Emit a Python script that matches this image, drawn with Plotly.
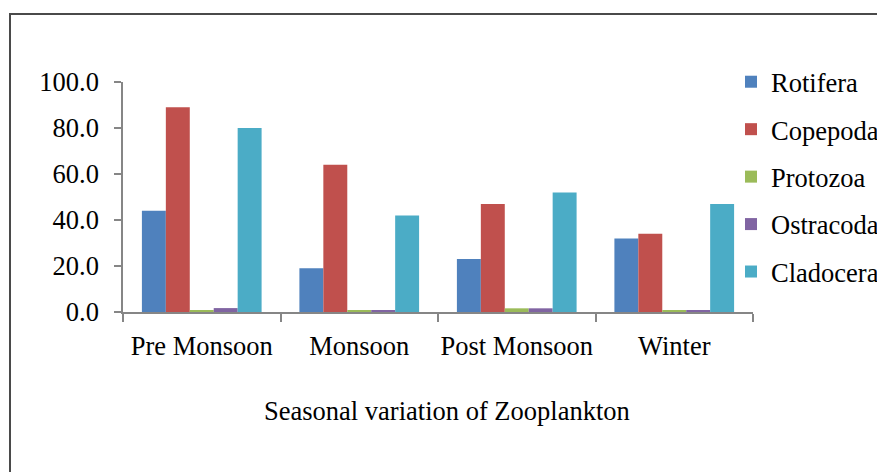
import plotly.graph_objects as go

categories = ["Pre Monsoon", "Monsoon", "Post Monsoon", "Winter"]
rotifera = [44.0, 19.0, 23.0, 32.0]
copepoda = [89.0, 64.0, 47.0, 34.0]
protozoa = [0.8, 0.5, 1.6, 0.5]
ostracoda = [1.7, 0.6, 1.6, 0.6]
cladocera = [80.0, 42.0, 52.0, 47.0]
y_ticks = [0, 20, 40, 60, 80, 100]
y_tick_labels = ["0.0", "20.0", "40.0", "60.0", "80.0", "100.0"]

series = [
    ("Rotifera", rotifera, "#4F81BD"),
    ("Copepoda", copepoda, "#C0504D"),
    ("Protozoa", protozoa, "#9BBB59"),
    ("Ostracoda", ostracoda, "#8064A2"),
    ("Cladocera", cladocera, "#4BACC6"),
]

# the page body has an 8px default margin, so the figure is drawn at (8, 8)
OFF = 8
W, H = 885 - OFF, 472 - OFF
# plot area in screenshot pixels: x 123..753, y 82..312
L = 123 - OFF
T = 82 - OFF
R = W - (753 - OFF)
B = H - (312 - OFF)
pw, ph = W - L - R, H - T - B

FONT = "Liberation Serif"
FS = 26.5

fig = go.Figure()
for name, vals, col in series:
    fig.add_trace(go.Bar(x=categories, y=vals, name=name, legendgroup=name,
                         marker=dict(color=col, line=dict(width=0))))

def px_x(p):
    return (p - OFF - L) / pw

def px_y(p):
    return (H - B - (p - OFF)) / ph

fig.update_layout(
    width=W, height=H,
    margin=dict(l=L, r=R, t=T, b=B, autoexpand=False),
    paper_bgcolor="white", plot_bgcolor="white",
    barmode="group", bargap=0.24, bargroupgap=0,
    font=dict(family=FONT, size=FS, color="black"),
    showlegend=True,
    legend=dict(x=px_x(731), y=px_y(58), xanchor="left", yanchor="top",
                font=dict(family=FONT, size=FS, color="black"),
                traceorder="grouped", tracegroupgap=10,
                bgcolor="rgba(0,0,0,0)"),
    xaxis=dict(showline=True, linecolor="#868686", linewidth=1.5,
               ticks="outside", tickson="boundaries", ticklen=8,
               tickcolor="#868686", tickwidth=1.5, showgrid=False,
               automargin=False, tickangle=0,
               tickfont=dict(family=FONT, size=FS, color="black"),
               ticklabelstandoff=9),
    yaxis=dict(range=[0, 100], tickvals=y_ticks, ticktext=y_tick_labels,
               showline=True, linecolor="#868686", linewidth=1.5,
               ticks="outside", ticklen=7, tickcolor="#868686", tickwidth=1.5,
               showgrid=False, zeroline=False, automargin=False,
               tickfont=dict(family=FONT, size=FS, color="black"),
               ticklabelstandoff=10),
    shapes=[dict(type="rect", xref="paper", yref="paper",
                 x0=px_x(10), x1=px_x(900), y0=px_y(490), y1=px_y(14),
                 line=dict(color="#4a4a4a", width=2), fillcolor="rgba(0,0,0,0)",
                 layer="below")],
    annotations=[dict(text="Seasonal variation of Zooplankton", xref="paper", yref="paper",
                      x=px_x(447), y=px_y(411), xanchor="center", yanchor="middle",
                      showarrow=False, font=dict(family=FONT, size=FS, color="black"))],
)

fig.write_html("out.html")
